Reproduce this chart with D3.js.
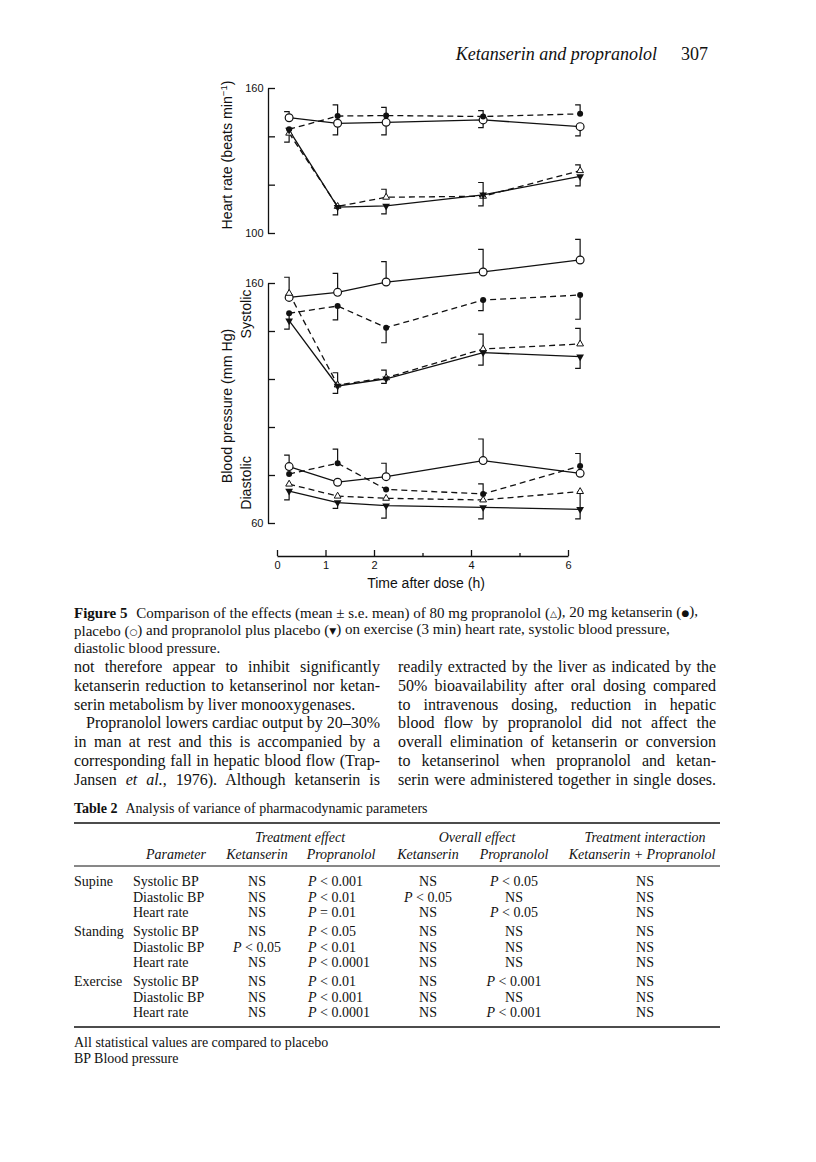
<!DOCTYPE html>
<html><head><meta charset="utf-8">
<script src="https://cdn.jsdelivr.net/npm/d3@7"></script>
<style>body{margin:0;background:#fff} svg{display:block}</style>
</head><body><svg id="page" width="816" height="1162"></svg>
<script>
// ---------------- DATA ----------------
const times = [0.25, 1.25, 2.25, 4.25, 6.25];
const xTicks = [0, 1, 2, 3, 4, 5, 6];
const xTickLabels = [0, 1, 2, 4, 6];
const hrTicks = [100, 120, 140, 160];
const hrTickLabels = [100, 160];
const bpTicks = [60, 80, 100, 120, 140, 160];
const bpTickLabels = [60, 160];

// Heart rate (beats/min); SE sign: + bar drawn up, - bar drawn down, 0 none
const hrPlacebo = [147.7, 145.4, 145.8, 146.8, 144.0];
const hrPlaceboSE = [2.5, -4.8, -5.2, -3.2, -3.8];
const hrKetanserin = [142.9, 148.4, 148.6, 148.2, 149.3];
const hrKetanserinSE = [-5.3, 4.6, 3.4, 2.4, 3.7];
const hrPropranolol = [141.3, 111.0, 114.8, 115.2, 125.8];
const hrPropranololSE = [0, 0, 3.3, 5.7, 2.4];
const hrPropPlacebo = [142.6, 110.7, 111.2, 115.8, 123.4];
const hrPropPlaceboSE = [0, -3.2, -3.3, -4.6, -3.9];

// Systolic BP (mm Hg)
const sysPlacebo = [154.0, 156.1, 160.4, 164.6, 169.6];
const sysPlaceboSE = [8.4, 7.9, 8.5, 9.4, 8.6];
const sysKetanserin = [147.4, 150.4, 141.4, 152.9, 155.0];
const sysKetanserinSE = [-6.6, -5.8, -6.3, -4.4, -10.1];
const sysPropranolol = [155.7, 117.5, 120.5, 132.5, 134.6];
const sysPropranololSE = [0, 5.1, 3.2, 6.2, 6.5];
const sysPropPlacebo = [144.3, 117.1, 120.1, 131.0, 129.3];
const sysPropPlaceboSE = [0, -3.1, -1.9, -5.2, -4.9];

// Diastolic BP (mm Hg)
const diaPlacebo = [83.5, 77.0, 79.3, 86.0, 80.7];
const diaPlaceboSE = [4.8, 0, 5.6, 9.0, 0];
const diaKetanserin = [80.4, 84.9, 74.0, 72.1, 83.75];
const diaKetanserinSE = [0, 5.9, 0, 4.2, 5.2];
const diaPropranolol = [76.2, 71.2, 70.3, 69.6, 73.1];
const diaPropranololSE = [0, 0, 0, 0, -11.4];
const diaPropPlacebo = [73.3, 68.5, 67.2, 66.5, 65.7];
const diaPropPlaceboSE = [-3.7, -2.4, -5.2, -4.8, 0];

// Texts
const headerTitle = "Ketanserin and propranolol";
const headerPage = "307";
const hrAxisTitle = "Heart rate (beats min";
const bpAxisTitle = "Blood pressure (mm Hg)";
const sysLabel = "Systolic";
const diaLabel = "Diastolic";
const xAxisTitle = "Time after dose (h)";

const leftColumn = [
  "not therefore appear to inhibit significantly",
  "ketanserin reduction to ketanserinol nor ketan-",
  "serin metabolism by liver monooxygenases.",
  "Propranolol lowers cardiac output by 20–30%",
  "in man at rest and this is accompanied by a",
  "corresponding fall in hepatic blood flow (Trap-",
  "Jansen *et al.*, 1976). Although ketanserin is"
];
const rightColumn = [
  "readily extracted by the liver as indicated by the",
  "50% bioavailability after oral dosing compared",
  "to intravenous dosing, reduction in hepatic",
  "blood flow by propranolol did not affect the",
  "overall elimination of ketanserin or conversion",
  "to ketanserinol when propranolol and ketan-",
  "serin were administered together in single doses."
];

const tableTitle = ["Table 2", "Analysis of variance of pharmacodynamic parameters"];
const tableGroups = ["Treatment effect", "Overall effect", "Treatment interaction"];
const tableHeads = ["Parameter", "Ketanserin", "Propranolol", "Ketanserin", "Propranolol", "Ketanserin + Propranolol"];
const tableRows = [
  ["Supine", "Systolic BP", "NS", "P < 0.001", "NS", "P < 0.05", "NS"],
  ["", "Diastolic BP", "NS", "P < 0.01", "P < 0.05", "NS", "NS"],
  ["", "Heart rate", "NS", "P = 0.01", "NS", "P < 0.05", "NS"],
  ["Standing", "Systolic BP", "NS", "P < 0.05", "NS", "NS", "NS"],
  ["", "Diastolic BP", "P < 0.05", "P < 0.01", "NS", "NS", "NS"],
  ["", "Heart rate", "NS", "P < 0.0001", "NS", "NS", "NS"],
  ["Exercise", "Systolic BP", "NS", "P < 0.01", "NS", "P < 0.001", "NS"],
  ["", "Diastolic BP", "NS", "P < 0.001", "NS", "NS", "NS"],
  ["", "Heart rate", "NS", "P < 0.0001", "NS", "P < 0.001", "NS"]
];
const tableNotes = ["All statistical values are compared to placebo", "BP Blood pressure"];

// ---------------- DRAWING ----------------
const SERIF = '"Liberation Serif","Times New Roman",Times,serif';
const SANS = '"Liberation Sans",Arial,Helvetica,sans-serif';
const INK = '#111';
const LEFT = 74;
const svg = d3.select('#page');
svg.append('rect').attr('width', 816).attr('height', 1162).attr('fill', '#fff');

// header
svg.append('text').attr('x', 657).attr('y', 60).attr('text-anchor', 'end')
  .style('font-family', SERIF).style('font-style', 'italic').style('font-size', '18px').attr('fill', INK)
  .text(headerTitle);
svg.append('text').attr('x', 708).attr('y', 60).attr('text-anchor', 'end')
  .style('font-family', SERIF).style('font-size', '18px').attr('fill', INK).text(headerPage);

// scales
const x = d3.scaleLinear().domain([0, 6]).range([277, 568]);
const yHR = d3.scaleLinear().domain([100, 160]).range([233, 88]);
const yBP = d3.scaleLinear().domain([60, 160]).range([523, 283]);

const chart = svg.append('g').attr('class', 'chart');

function yAxis(scale, ticks, labels) {
  const g = chart.append('g').attr('transform', 'translate(268,0)')
    .call(d3.axisRight(scale).tickValues(ticks).tickSize(7).tickSizeOuter(0).tickFormat(''));
  g.selectAll('path,line').attr('stroke', INK).attr('stroke-width', 1.3);
  const gl = chart.append('g').attr('transform', 'translate(268,0)')
    .call(d3.axisLeft(scale).tickValues(labels).tickSize(0).tickPadding(4.5).tickFormat(d3.format('d')));
  gl.select('.domain').remove();
  gl.selectAll('text').style('font-family', SANS).style('font-size', '11px').attr('fill', INK);
}
yAxis(yHR, hrTicks, hrTickLabels);
yAxis(yBP, bpTicks, bpTickLabels);

// x axis
const gx = chart.append('g').attr('transform', 'translate(0,556)')
  .call(d3.axisTop(x).tickValues(xTicks).tickSize(3).tickSizeOuter(0).tickFormat(''));
gx.selectAll('.tick line').attr('y2', d => xTickLabels.includes(d) ? -6 : -3);
gx.selectAll('path,line').attr('stroke', INK).attr('stroke-width', 1.3);
const gxl = chart.append('g').attr('transform', 'translate(0,556)')
  .call(d3.axisBottom(x).tickValues(xTickLabels).tickSize(0).tickPadding(5).tickFormat(d3.format('d')));
gxl.select('.domain').remove();
gxl.selectAll('text').style('font-family', SANS).style('font-size', '11px').attr('fill', INK);

// axis titles
function rotLabel(tx, ty, txt, size) {
  return chart.append('text').attr('transform', `translate(${tx},${ty}) rotate(-90)`)
    .attr('text-anchor', 'middle').style('font-family', SANS).style('font-size', size + 'px')
    .attr('fill', INK).text(txt);
}
const hrT = rotLabel(232, 155, hrAxisTitle, 14.2);
hrT.append('tspan').attr('dy', -5).style('font-size', '9.5px').text('−1');
hrT.append('tspan').attr('dy', 5).text(')');
rotLabel(232, 406, bpAxisTitle, 14.2);
rotLabel(251, 314, sysLabel, 14.2);
rotLabel(251, 483, diaLabel, 14.2);
chart.append('text').attr('x', 426).attr('y', 588).attr('text-anchor', 'middle')
  .style('font-family', SANS).style('font-size', '14px').attr('fill', INK).text(xAxisTitle);

// series styles
const styles = {
  placebo: { dash: null, marker: 'openCircle' },
  ketanserin: { dash: '6,4', marker: 'filledCircle' },
  propranolol: { dash: '6,4', marker: 'openTriangle' },
  propPlacebo: { dash: null, marker: 'filledDown' }
};
const panels = [
  { y: yHR, series: [
    { v: hrPlacebo, se: hrPlaceboSE, s: styles.placebo },
    { v: hrKetanserin, se: hrKetanserinSE, s: styles.ketanserin },
    { v: hrPropranolol, se: hrPropranololSE, s: styles.propranolol },
    { v: hrPropPlacebo, se: hrPropPlaceboSE, s: styles.propPlacebo }] },
  { y: yBP, series: [
    { v: sysPlacebo, se: sysPlaceboSE, s: styles.placebo },
    { v: sysKetanserin, se: sysKetanserinSE, s: styles.ketanserin },
    { v: sysPropranolol, se: sysPropranololSE, s: styles.propranolol },
    { v: sysPropPlacebo, se: sysPropPlaceboSE, s: styles.propPlacebo }] },
  { y: yBP, series: [
    { v: diaPlacebo, se: diaPlaceboSE, s: styles.placebo },
    { v: diaKetanserin, se: diaKetanserinSE, s: styles.ketanserin },
    { v: diaPropranolol, se: diaPropranololSE, s: styles.propranolol },
    { v: diaPropPlacebo, se: diaPropPlaceboSE, s: styles.propPlacebo }] }
];

const triUp = d3.symbol(d3.symbolTriangle, 20)();
const triDown = d3.symbol(d3.symbolTriangle, 26)();

panels.forEach(p => {
  const line = d3.line().x((d, i) => x(times[i])).y(d => p.y(d));
  p.series.forEach(s => {
    chart.append('path').datum(s.v).attr('d', line).attr('fill', 'none')
      .attr('stroke', INK).attr('stroke-width', 1.3)
      .attr('stroke-dasharray', s.s.dash);
  });
  p.series.forEach(s => {
    s.se.forEach((e, i) => {
      if (!e) return;
      const cx = x(times[i]), y0 = p.y(s.v[i]), y1 = p.y(s.v[i] + e);
      chart.append('path').attr('d', `M${cx},${y0}V${y1}H${cx - 5}`)
        .attr('fill', 'none').attr('stroke', INK).attr('stroke-width', 1.2);
    });
  });
  p.series.forEach(s => {
    s.v.forEach((v, i) => {
      const cx = x(times[i]), cy = p.y(v);
      const m = s.s.marker;
      if (m === 'openCircle') {
        chart.append('circle').attr('cx', cx).attr('cy', cy).attr('r', 3.9)
          .attr('fill', '#fff').attr('stroke', INK).attr('stroke-width', 1.2);
      } else if (m === 'filledCircle') {
        chart.append('circle').attr('cx', cx).attr('cy', cy).attr('r', 3).attr('fill', INK);
      } else if (m === 'openTriangle') {
        chart.append('path').attr('d', triUp).attr('transform', `translate(${cx},${cy})`)
          .attr('fill', '#fff').attr('stroke', INK).attr('stroke-width', 1);
      } else {
        chart.append('path').attr('d', triDown).attr('transform', `translate(${cx},${cy}) rotate(180)`)
          .attr('fill', INK);
      }
    });
  });
});

// ---------------- caption ----------------
const cap = svg.append('g').style('font-family', SERIF).style('font-size', '15px').attr('fill', INK);
function symT(t, s) { t.append('tspan').style('font-family', '"DejaVu Sans",sans-serif').style('font-size', '9px').attr('dy', -1).text(s); t.append('tspan').attr('dy', 1); }
let c1 = cap.append('text').attr('x', LEFT).attr('y', 618);
c1.append('tspan').style('font-weight', 'bold').text('Figure 5');
c1.append('tspan').attr('dx', 5).text(' Comparison of the effects (mean ± s.e. mean) of 80 mg propranolol (');
symT(c1, '△');
c1.append('tspan').text('), 20 mg ketanserin (');
symT(c1, '●');
c1.append('tspan').text('),');
let c2 = cap.append('text').attr('x', LEFT).attr('y', 635.5);
c2.append('tspan').text('placebo (');
symT(c2, '○');
c2.append('tspan').text(') and propranolol plus placebo (');
symT(c2, '▼');
c2.append('tspan').text(') on exercise (3 min) heart rate, systolic blood pressure,');
cap.append('text').attr('x', LEFT).attr('y', 653).text('diastolic blood pressure.');

// ---------------- body text ----------------
const body = svg.append('g').style('font-family', SERIF).style('font-size', '16px').attr('fill', INK);
function justify(t, width) {
  const node = t.node();
  const nat = node.getComputedTextLength();
  const n = (node.textContent.match(/ /g) || []).length;
  if (n) t.style('word-spacing', ((width - nat) / n) + 'px');
}
function richLine(g, str, xx, yy) {
  const t = g.append('text').attr('x', xx).attr('y', yy);
  str.split('*').forEach((seg, k) => {
    if (!seg) return;
    const ts = t.append('tspan').text(seg);
    if (k % 2 === 1) ts.style('font-style', 'italic');
  });
  return t;
}
const bodyY0 = 672, bodyStep = 18.8;
leftColumn.forEach((ln, i) => {
  const indent = i === 3 ? 12 : 0;
  const t = richLine(body, ln, LEFT + indent, bodyY0 + i * bodyStep);
  if (i !== 2) justify(t, 380 - LEFT - indent);
});
rightColumn.forEach((ln, i) => {
  const t = richLine(body, ln, 398, bodyY0 + i * bodyStep);
  justify(t, 318);
});

// ---------------- table ----------------
const tb = svg.append('g').style('font-family', SERIF).style('font-size', '14px').attr('fill', INK);
const tt = tb.append('text').attr('x', LEFT).attr('y', 813);
tt.append('tspan').style('font-weight', 'bold').text(tableTitle[0]);
tt.append('tspan').attr('dx', 8).text(tableTitle[1]);

tb.append('line').attr('x1', LEFT).attr('x2', 720).attr('y1', 823).attr('y2', 823).attr('stroke', INK).attr('stroke-width', 1.5);
tb.append('line').attr('x1', LEFT).attr('x2', 720).attr('y1', 866).attr('y2', 866).attr('stroke', INK).attr('stroke-width', 1);
tb.append('line').attr('x1', LEFT).attr('x2', 720).attr('y1', 1027).attr('y2', 1027).attr('stroke', INK).attr('stroke-width', 1.5);

const groupX = [300, 477, 645];
tableGroups.forEach((g, i) => {
  tb.append('text').attr('x', groupX[i]).attr('y', 842).attr('text-anchor', 'middle')
    .style('font-style', 'italic').text(g);
});
const headX = [176, 257, 341, 428, 514, 642];
tableHeads.forEach((h, i) => {
  tb.append('text').attr('x', headX[i]).attr('y', 859).attr('text-anchor', 'middle')
    .style('font-style', 'italic').text(h);
});
const colX = [LEFT, 133, 257, 308, 428, 514, 645];
const colAnchor = ['start', 'start', 'middle', 'start', 'middle', 'middle', 'middle'];
tableRows.forEach((row, r) => {
  const grp = Math.floor(r / 3);
  const yy = 886 + r * 15.5 + grp * 3.5;
  row.forEach((cell, c) => {
    if (!cell) return;
    const t = tb.append('text').attr('x', colX[c]).attr('y', yy).attr('text-anchor', colAnchor[c]);
    if (cell.startsWith('P ')) {
      t.append('tspan').style('font-style', 'italic').text('P');
      t.append('tspan').text(cell.slice(1));
    } else t.text(cell);
  });
});
tableNotes.forEach((n, i) => {
  tb.append('text').attr('x', LEFT).attr('y', 1047 + i * 16).text(n);
});
</script>
</body></html>
